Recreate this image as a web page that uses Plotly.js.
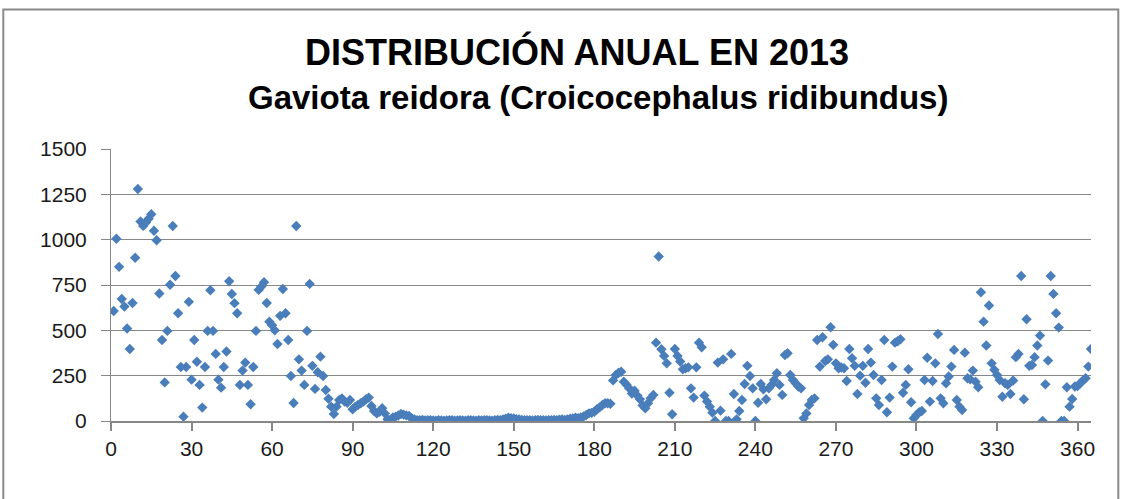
<!DOCTYPE html>
<html>
<head>
<meta charset="utf-8">
<script src="https://cdn.plot.ly/plotly-3.0.1.min.js"></script>
<style>html,body{margin:0;padding:0;background:#fff;}#chart{width:1126px;height:499px;}</style>
</head>
<body>
<div id="chart"></div>
<script>
// Daily counts, 2013, one value per day (day 1 = first value of each block)
const titleLine1 = "DISTRIBUCIÓN ANUAL EN 2013";
const titleLine2 = "Gaviota reidora (Croicocephalus ridibundus)";

const xTickVals = [0, 30, 60, 90, 120, 150, 180, 210, 240, 270, 300, 330, 360];
const yTickVals = [0, 250, 500, 750, 1000, 1250, 1500];

// days 1-90
const countsQ1 = [
  607,1005,850,673,631,510,397,651,900,1279,
  1100,1076,1095,1115,1140,1049,997,703,447,213,
  497,751,1075,800,594,298,24,298,657,228,
  447,327,199,74,298,497,721,497,370,228,
  184,298,383,771,700,650,594,199,278,322,
  199,92,298,497,723,742,765,651,547,528,
  500,425,580,728,594,447,248,99,1075,340,
  278,199,497,756,304,177,269,355,248,171,
  123,79,39,79,116,125,107,100,116,65
];
// days 91-180
const countsQ2 = [
  79,88,98,107,120,129,83,55,42,51,
  70,42,9,6,20,24,30,39,35,31,
  28,15,9,5,4,6,3,4,5,3,
  2,4,3,2,3,5,4,2,3,4,
  3,2,4,5,3,2,4,3,5,4,
  3,2,4,6,5,8,12,18,15,14,
  10,8,6,5,4,5,3,4,6,5,
  4,3,5,4,6,5,7,8,6,9,
  12,14,18,15,20,25,33,42,45,51
];
// days 181-270
const countsQ3 = [
  65,75,88,98,98,95,224,254,265,272,
  217,200,180,152,167,140,120,86,70,98,
  125,144,432,907,396,359,318,156,37,397,
  359,328,285,291,296,180,129,296,432,407,
  140,107,79,46,0,322,57,340,0,0,
  370,149,9,55,116,204,304,248,180,0,
  101,204,175,120,180,199,226,263,199,144,
  364,374,254,226,208,190,180,15,42,88,
  116,125,447,300,462,331,340,517,420,318
];
// days 271-365
const countsQ4 = [
  291,295,291,221,397,346,304,149,250,304,
  211,397,322,254,125,88,226,447,48,129,
  300,432,440,451,156,199,285,103,15,33,
  48,55,226,349,107,221,318,480,125,98,
  208,245,300,392,116,79,61,377,236,230,
  278,217,186,710,548,416,637,318,282,254,
  226,134,208,199,149,223,352,370,800,120,
  561,304,309,352,416,471,0,202,333,800,
  701,594,515,0,0,186,79,121,190,193,
  208,223,236,300,397
];

const counts = countsQ1.concat(countsQ2, countsQ3, countsQ4);
const days = counts.map((_, i) => i + 1);

const W = 1126, H = 499;
const L = 110.7, R = 1090.7, T = 149.3, B = 421;
const pw = R - L, ph = B - T;
const px = v => (v - L) / pw;
const py = v => (B - v) / ph;

const trace = {
  type: 'scatter',
  mode: 'markers',
  x: days,
  y: counts,
  marker: {symbol: 'diamond', size: 8, color: '#4A7EBB', line: {width: 0}},
  hoverinfo: 'x+y',
  showlegend: false
};

const gridColor = '#878787';
const fontFam = 'Liberation Sans, Arial, sans-serif';
const tickFont = {family: fontFam, size: 21, color: '#1a1a1a'};

const layout = {
  width: W, height: H,
  margin: {l: L, r: W - R, t: T, b: H - B, pad: 0},
  paper_bgcolor: '#ffffff',
  plot_bgcolor: '#ffffff',
  title: {
    text: '<b>' + titleLine1 + '</b>',
    font: {family: fontFam, size: 36, color: '#000'},
    xref: 'container', x: 577 / W, xanchor: 'center',
    yref: 'container', y: 1 - 52 / H, yanchor: 'middle'
  },
  annotations: [
    {text: '<b>' + titleLine2 + '</b>', showarrow: false,
     font: {family: fontFam, size: 33, color: '#000'},
     xref: 'paper', x: px(597.5), xanchor: 'center',
     yref: 'paper', y: py(98), yanchor: 'middle'}
  ],
  xaxis: {
    range: [0, 365],
    tickvals: xTickVals,
    ticks: 'outside', ticklen: 8, tickwidth: 2, tickcolor: gridColor,
    showgrid: false, zeroline: false,
    showline: true, linecolor: gridColor, linewidth: 2,
    tickfont: tickFont
  },
  yaxis: {
    range: [0, 1500],
    tickvals: yTickVals,
    ticks: 'outside', ticklen: 9, tickwidth: 1, tickcolor: gridColor,
    showgrid: true, gridcolor: gridColor, gridwidth: 1,
    zeroline: false,
    showline: true, linecolor: gridColor, linewidth: 1,
    tickfont: tickFont,
    ticklabelstandoff: 10
  },
  shapes: [
    {type: 'rect', xref: 'paper', yref: 'paper',
     x0: px(3), x1: px(1118), y0: py(560), y1: py(10),
     line: {color: '#8a8a8a', width: 2}, fillcolor: 'rgba(0,0,0,0)', layer: 'below'}
  ]
};

Plotly.newPlot('chart', [trace], layout, {displayModeBar: false, staticPlot: true});
</script>
</body>
</html>
